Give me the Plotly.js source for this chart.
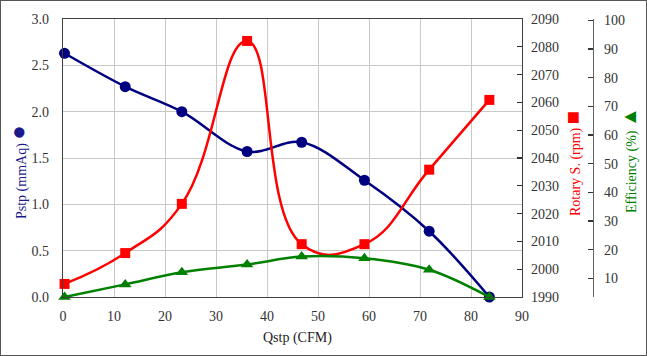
<!DOCTYPE html>
<html>
<head>
<meta charset="utf-8">
<script src="https://cdn.plot.ly/plotly-3.0.1.min.js"></script>
<style>
html,body{margin:0;padding:0;background:#fff;}
#wrap{position:relative;width:647px;height:356px;}
#chart{position:absolute;left:0;top:0;width:647px;height:356px;}
#frame{position:absolute;left:0;top:0;width:647px;height:356px;box-sizing:border-box;border:1px solid #555;pointer-events:none;}
</style>
</head>
<body>
<div id="wrap"><div id="chart"></div><div id="frame"></div></div>
<script>
const qstp = [0.3, 12.2, 23.3, 36.1, 46.8, 59.1, 71.8, 83.6];
const pstp = [2.63, 2.27, 2.0, 1.57, 1.67, 1.26, 0.71, 0.0];
const rotary = [1994.7, 2005.8, 2023.5, 2082.1, 2009.0, 2009.0, 2035.8, 2060.9];
const efficiency = [3.5, 7.9, 12.1, 14.8, 17.6, 17.0, 13.0, 3.5];
const xTicks = [0, 10, 20, 30, 40, 50, 60, 70, 80, 90];
const effTicks = [10, 20, 30, 40, 50, 60, 70, 80, 90, 100];

const BLUE = '#000080', RED = '#ff0000', GREEN = '#008000';
const FONT = 'Liberation Serif, Times New Roman, serif';
const TICKC = '#333333';

const traces = [
  {x: qstp, y: pstp, type: 'scatter', mode: 'lines+markers', name: 'Pstp',
   line: {color: BLUE, width: 2.5, shape: 'spline', smoothing: 1},
   marker: {symbol: 'circle', size: 11, color: BLUE}, cliponaxis: false, xaxis: 'x', yaxis: 'y'},
  {x: qstp, y: rotary, type: 'scatter', mode: 'lines+markers', name: 'Rotary S.',
   line: {color: RED, width: 2.5, shape: 'spline', smoothing: 1.3},
   marker: {symbol: 'square', size: 10, color: RED}, cliponaxis: false, xaxis: 'x', yaxis: 'y2'},
  {x: qstp, y: efficiency, type: 'scatter', mode: 'lines+markers', name: 'Efficiency',
   line: {color: GREEN, width: 2.5, shape: 'spline', smoothing: 1},
   marker: {symbol: 'triangle-up', size: 11, color: GREEN}, cliponaxis: false, xaxis: 'x', yaxis: 'y3'}
];

const layout = {
  width: 647, height: 356,
  margin: {l: 63, r: 54, t: 19, b: 59, pad: 0},
  paper_bgcolor: '#ffffff', plot_bgcolor: '#ffffff',
  showlegend: false,
  font: {family: FONT, size: 14, color: TICKC},
  xaxis: {
    domain: [0, 459/530], range: [0, 90], tickvals: xTicks,
    showgrid: true, gridcolor: '#c8c8c8', gridwidth: 1,
    showline: true, linecolor: '#404040', linewidth: 1.3, mirror: true,
    ticks: '', zeroline: false, ticklabelstandoff: 6,
    tickfont: {family: FONT, size: 14, color: TICKC}
  },
  yaxis: {
    range: [0, 3], dtick: 0.5, tick0: 0, tickformat: '.1f',
    showgrid: true, gridcolor: '#c8c8c8', gridwidth: 1,
    showline: true, linecolor: '#404040', linewidth: 1.3, mirror: true,
    ticks: '', zeroline: false, ticklabelstandoff: 10,
    tickfont: {family: FONT, size: 14, color: TICKC}
  },
  yaxis2: {
    overlaying: 'y', side: 'right', anchor: 'x', range: [1990, 2090], dtick: 10, tick0: 1990,
    showgrid: false, zeroline: false, showline: false,
    ticks: 'inside', ticklen: 5, tickcolor: '#333', tickwidth: 1.3, ticklabelstandoff: 8,
    tickfont: {family: FONT, size: 14, color: TICKC}
  },
  yaxis3: {
    overlaying: 'y', side: 'right', anchor: 'free', position: 1.0, range: [3.5, 100.5],
    tickvals: effTicks,
    showgrid: false, zeroline: false, showline: true, linecolor: '#666', linewidth: 1.3,
    ticks: 'inside', ticklen: 5, tickcolor: '#333', tickwidth: 1.3, ticklabelstandoff: 7,
    tickfont: {family: FONT, size: 14, color: TICKC}
  },
  annotations: [
    {xref: 'paper', yref: 'paper', x: (297-63)/530, y: (297-338)/278, xanchor: 'center', yanchor: 'middle',
     text: 'Qstp (CFM)', showarrow: false, font: {family: FONT, size: 14, color: '#222'}},
    {xref: 'paper', yref: 'paper', x: (18-63)/530, y: (297-172)/278, xanchor: 'center', yanchor: 'middle',
     textangle: -90, showarrow: false,
     text: 'Pstp (mmAq) <span style="font-size:24px">●</span>', font: {family: FONT, size: 14, color: '#1a1a8c'}},
    {xref: 'paper', yref: 'paper', x: (572-63)/530, y: (297-164)/278, xanchor: 'center', yanchor: 'middle',
     textangle: -90, showarrow: false,
     text: 'Rotary S. (rpm) <span style="font-size:22px">■</span>', font: {family: FONT, size: 14, color: RED}},
    {xref: 'paper', yref: 'paper', x: (629-63)/530, y: (297-160)/278, xanchor: 'center', yanchor: 'middle',
     textangle: -90, showarrow: false,
     text: 'Efficiency (%) <span style="font-size:20px">▲</span>', font: {family: FONT, size: 14, color: GREEN}}
  ]
};

Plotly.newPlot('chart', traces, layout, {displayModeBar: false, staticPlot: true});
</script>
</body>
</html>
